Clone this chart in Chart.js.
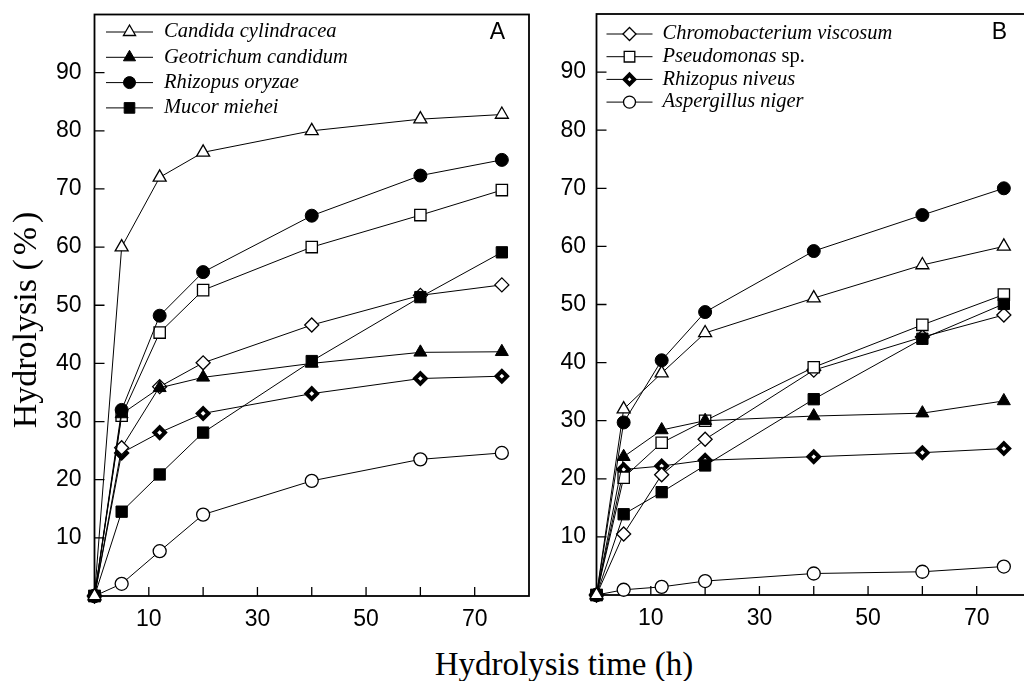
<!DOCTYPE html>
<html lang="en">
<head>
  <meta charset="UTF-8">
  <title>Hydrolysis vs time</title>
  <script src="https://cdn.jsdelivr.net/npm/chart.js"></script>
  <style>
    body { margin: 0; background: #fff; overflow: hidden; }
    #wrap { position: relative; width: 1024px; height: 681px; overflow: hidden; background: #fff; }
    canvas { position: absolute; top: 0; }
    #yTitle {
      position: absolute; left: -124px; top: 298px; width: 300px; height: 40px;
      line-height: 40px; text-align: center; transform: rotate(-90deg);
      font: 34px "Liberation Serif", serif; color: #000; white-space: nowrap;
    }
    #yTitle span { letter-spacing: 4px; }
    #xTitle {
      position: absolute; left: 264px; top: 646px; width: 600px; height: 40px;
      line-height: 40px; text-align: center;
      font: 33px "Liberation Serif", serif; color: #000; white-space: nowrap;
    }
  </style>
</head>
<body>
<div id="wrap">
  <canvas id="chartA" width="545" height="640" style="left:0"></canvas>
  <canvas id="chartB" width="515" height="640" style="left:545px"></canvas>
  <div id="yTitle">Hydrolysis <span>(%)</span></div>
  <div id="xTitle">Hydrolysis time (h)</div>
</div>
<script>
  // sampling times (h)
  const hours = [0, 5, 12, 20, 40, 60, 75];
  const xTickLabels = [10, 30, 50, 70];
  const yTickLabels = [10, 20, 30, 40, 50, 60, 70, 80, 90];

  const names = ['Candida cylindracea', 'Geotrichum candidum', 'Rhizopus oryzae', 'Mucor miehei',
                 'Pseudomonas sp.', 'Chromobacterium viscosum', 'Rhizopus niveus', 'Aspergillus niger'];

  // panel A
  const candidaA     = [0, 60, 72, 76.3, 80, 82, 82.8];
  const geotrichumA  = [0, 31.3, 35.8, 37.6, 40, 41.9, 42];
  const oryzaeA      = [0, 32, 48.2, 55.7, 65.4, 72.3, 75];
  const mucorA       = [0, 14.5, 20.9, 28.1, 40.4, 51.4, 59.1];
  const pseudomonasA = [0, 31, 45.3, 52.6, 60, 65.5, 69.8];
  const chromoA      = [0, 25.5, 36, 40.1, 46.6, 51.7, 53.5];
  const niveusA      = [0, 24.6, 28.1, 31.4, 34.8, 37.4, 37.8];
  const nigerA       = [0, 2.1, 7.7, 14, 19.8, 23.5, 24.6];

  // panel B
  const candidaB     = [0, 32, 38.2, 45.1, 51.1, 56.8, 60];
  const geotrichumB  = [0, 23.8, 28.4, 30, 30.8, 31.3, 33.4];
  const oryzaeB      = [0, 29.7, 40.4, 48.7, 59.2, 65.4, 70];
  const mucorB       = [0, 13.9, 17.7, 22.3, 33.7, 44.1, 50.1];
  const pseudomonasB = [0, 20.2, 26.2, 30, 39.2, 46.5, 51.7];
  const chromoB      = [0, 10.5, 20.7, 26.8, 38.7, 44.4, 48.2];
  const niveusB      = [0, 21.6, 22.2, 23.2, 23.8, 24.5, 25.2];
  const nigerB       = [0, 0.9, 1.4, 2.4, 3.7, 4.0, 4.9];

  // marker look for each lipase, same order as names
  const markers = [
    { pointStyle: 'triangle', pointRadius: 7.5, pointBackgroundColor: '#fff', pointBorderWidth: 1.3 },
    { pointStyle: 'triangle', pointRadius: 7.5, pointBackgroundColor: '#000', pointBorderWidth: 1 },
    { pointStyle: 'circle',   pointRadius: 6.5, pointBackgroundColor: '#000', pointBorderWidth: 1 },
    { pointStyle: 'rect',     pointRadius: 8,   pointBackgroundColor: '#000', pointBorderWidth: 1 },
    { pointStyle: 'rect',     pointRadius: 8,   pointBackgroundColor: '#fff', pointBorderWidth: 1.3 },
    { pointStyle: 'rectRot',  pointRadius: 7,   pointBackgroundColor: '#fff', pointBorderWidth: 1.3 },
    { pointStyle: 'rectRot',  pointRadius: 5.2, pointBackgroundColor: '#fff', pointBorderWidth: 4 },
    { pointStyle: 'circle',   pointRadius: 6.5, pointBackgroundColor: '#fff', pointBorderWidth: 1.3 }
  ];

  function makeDatasets(series) {
    return series.map((vals, i) => Object.assign({
      label: names[i],
      data: vals,
      borderColor: '#000',
      borderWidth: 1,
      pointBorderColor: '#000',
      tension: 0,
      clip: false
    }, markers[i]));
  }

  // frame, inward ticks, legend and panel letter
  const panelDecor = {
    id: 'panelDecor',
    beforeDatasetsDraw(chart) {
      const { ctx, chartArea: a, scales: { x, y } } = chart;
      ctx.save();
      ctx.strokeStyle = '#000';
      ctx.lineWidth = 1.8;
      ctx.strokeRect(a.left, a.top, a.right - a.left, a.bottom - a.top);
      ctx.lineWidth = 1.3;
      ctx.beginPath();
      x.ticks.forEach(t => {
        if (t.value <= x.min || t.value >= x.max) return;
        const px = x.getPixelForValue(t.value);
        ctx.moveTo(px, a.bottom);
        ctx.lineTo(px, a.bottom - 9);
      });
      y.ticks.forEach(t => {
        if (t.value <= y.min || t.value >= y.max) return;
        const py = y.getPixelForValue(t.value);
        ctx.moveTo(a.left, py);
        ctx.lineTo(a.left + 10, py);
      });
      ctx.stroke();
      ctx.restore();
    },
    afterDraw(chart, args, opts) {
      const { ctx, chartArea: a } = chart;
      ctx.save();
      opts.items.forEach((idx, i) => {
        const ds = chart.data.datasets[idx];
        const yy = a.top + opts.top + i * opts.gap;
        const x0 = a.left + opts.left;
        ctx.strokeStyle = '#000';
        ctx.lineWidth = 1;
        ctx.beginPath();
        ctx.moveTo(x0, yy);
        ctx.lineTo(x0 + opts.lineLen, yy);
        ctx.stroke();
        ctx.fillStyle = ds.pointBackgroundColor;
        ctx.lineWidth = ds.pointBorderWidth;
        Chart.helpers.drawPoint(ctx, {
          pointStyle: ds.pointStyle, radius: ds.pointRadius - 0.5,
          borderWidth: ds.pointBorderWidth, rotation: 0
        }, x0 + opts.lineLen / 2, yy);
        // species name in italics, "sp." upright
        ctx.fillStyle = '#000';
        ctx.textBaseline = 'middle';
        ctx.textAlign = 'left';
        let label = ds.label, tail = '';
        if (label.endsWith(' sp.')) { tail = ' sp.'; label = label.slice(0, -4); }
        ctx.font = 'italic 20.5px "Liberation Serif"';
        const tx = x0 + opts.textGap + opts.lineLen;
        ctx.fillText(label, tx, yy);
        if (tail) {
          const w = ctx.measureText(label).width;
          ctx.font = '20.5px "Liberation Serif"';
          ctx.fillText(tail, tx + w, yy);
        }
      });
      ctx.font = '23px "Liberation Sans"';
      ctx.textAlign = 'right';
      ctx.textBaseline = 'alphabetic';
      ctx.fillText(opts.letter, a.right - 24, a.top + 24.5);
      ctx.restore();
    }
  };

  function makeChart(id, series, cfg) {
    return new Chart(document.getElementById(id), {
      type: 'line',
      data: { labels: hours, datasets: makeDatasets(series) },
      options: {
        responsive: false,
        animation: false,
        devicePixelRatio: 1,
        layout: { padding: { left: 0, top: cfg.top, right: cfg.right, bottom: 0 } },
        plugins: {
          legend: { display: false },
          tooltip: { enabled: false },
          panelDecor: cfg.legend
        },
        scales: {
          x: {
            type: 'linear', min: 0, max: 80,
            afterFit: s => { s.height = cfg.xHeight; s.paddingLeft = 0; s.paddingRight = 0; },
            grid: { display: false, drawTicks: false },
            border: { display: false },
            ticks: {
              stepSize: 10, autoSkip: false, maxRotation: 0, padding: 10, color: '#000',
              font: { family: 'Liberation Sans', size: 23 },
              callback: v => xTickLabels.includes(v) ? String(v) : ''
            }
          },
          y: {
            min: 0, max: 100,
            afterFit: s => { s.width = cfg.yWidth; s.paddingTop = 0; s.paddingBottom = 0; },
            grid: { display: false, drawTicks: false },
            border: { display: false },
            ticks: {
              stepSize: 10, padding: cfg.yPad, color: '#000',
              font: { family: 'Liberation Sans', size: 23 },
              callback: v => yTickLabels.includes(v) ? String(v) : ''
            }
          }
        }
      },
      plugins: [panelDecor]
    });
  }

  makeChart('chartA',
    [candidaA, geotrichumA, oryzaeA, mucorA, pseudomonasA, chromoA, niveusA, nigerA],
    { top: 14.5, right: 16, xHeight: 44, yWidth: 94.5, yPad: 13,
      legend: { items: [0, 1, 2, 3], left: 11.5, top: 17.5, gap: 25.3, lineLen: 47, textGap: 11, letter: 'A' } });

  makeChart('chartB',
    [candidaB, geotrichumB, oryzaeB, mucorB, pseudomonasB, chromoB, niveusB, nigerB],
    { top: 14, right: 29, xHeight: 45, yWidth: 51.5, yPad: 10.5,
      legend: { items: [5, 4, 6, 7], left: 10, top: 20, gap: 22.7, lineLen: 46, textGap: 10, letter: 'B' } });
</script>
</body>
</html>
